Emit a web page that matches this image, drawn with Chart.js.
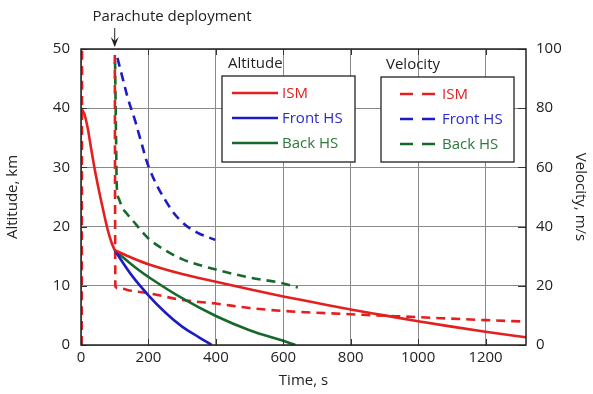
<!DOCTYPE html>
<html>
<head>
<meta charset="utf-8">
<script src="https://cdn.jsdelivr.net/npm/chart.js@4.4.0/dist/chart.umd.min.js"></script>
<style>
  html, body { margin: 0; padding: 0; background: #fff; }
</style>
</head>
<body>
<canvas id="chart" width="593" height="394"></canvas>
<script>
// Descent of the probe parts: altitude (left axis) and velocity (right axis)

const seriesNames = ['ISM', 'Front HS', 'Back HS'];
const seriesColors = ['#e3201f', '#1c1cc4', '#17692b'];
const legendTextColors = ['#e3201f', '#2a2ad0', '#2b7a3c'];

// altitude, km (ISM split at parachute deployment, where the curve has a corner)
const ismFallT  = [0, 10, 20, 30, 40, 50, 60, 70, 80, 90, 100];
const ismFall   = [40.0, 39.0, 36.6, 33.2, 29.9, 27.0, 24.3, 21.7, 19.3, 17.4, 16.0];
const ismChuteT = [100, 150, 200, 300, 400, 500, 600, 700, 800, 900, 1000, 1100, 1200, 1320];
const ismChute  = [16.0, 14.75, 13.65, 12.0, 10.7, 9.4, 8.2, 7.1, 6.0, 5.0, 4.0, 3.1, 2.25, 1.3];
const frontAltT = [100, 150, 200, 250, 300, 350, 388];
const frontAlt  = [16.0, 11.8, 8.4, 5.5, 3.1, 1.3, 0];
const backAltT  = [100, 150, 200, 300, 400, 500, 600, 636];
const backAlt   = [16.0, 13.6, 11.5, 7.9, 4.9, 2.5, 0.7, 0];

// velocity, m/s
const ismVelT   = [2, 4, 99, 102, 110, 150, 200, 300, 400, 500, 600, 800, 1000, 1200, 1320];
const ismVel    = [0, 150, 150, 19.7, 19.2, 18.3, 17.5, 15.2, 14.0, 12.5, 11.5, 10.4, 9.4, 8.4, 7.9];
const frontVelT = [108, 125, 140, 160, 175, 205, 255, 300, 345, 398];
const frontVel  = [97, 89.5, 83, 76, 70, 59, 48, 41.5, 38, 35.5];
const backVelT  = [101, 104, 106, 112, 122, 135, 150, 200, 250, 300, 400, 500, 600, 643];
const backVel   = [96, 70, 54, 49.5, 46.5, 44.5, 42.5, 36, 32, 29, 25.5, 22.8, 20.8, 19.4];

const xTicksMax = 1320;
const altMax = 50;
const velMax = 100;

const FONT = "'Open Sans', 'Liberation Sans', sans-serif";

function pts(t, v) {
    return t.map((x, i) => ({ x: x, y: v[i] }));
}

function lineSet(label, t, v, idx, axis, dashed, monotone) {
    return {
        label: label,
        data: pts(t, v),
        yAxisID: axis,
        borderColor: seriesColors[idx],
        borderWidth: 2.6,
        borderDash: dashed ? [9, 6] : [],
        pointRadius: 0,
        fill: false,
        tension: 0.4,
        cubicInterpolationMode: monotone ? 'monotone' : 'default'
    };
}

// frame round the plot, inner ticks, legends and the annotation
const decorations = {
    id: 'decorations',
    afterDatasetsDraw(chart) {
        const ctx = chart.ctx;
        const a = chart.chartArea;
        ctx.save();

        ctx.strokeStyle = '#333';
        ctx.lineWidth = 1;
        const x = chart.scales.x, y = chart.scales.y, y2 = chart.scales.y2;
        x.ticks.forEach(tk => {
            const px = Math.round(x.getPixelForValue(tk.value)) + 0.5;
            ctx.beginPath();
            ctx.moveTo(px, a.bottom); ctx.lineTo(px, a.bottom - 6);
            ctx.moveTo(px, a.top); ctx.lineTo(px, a.top + 6);
            ctx.stroke();
        });
        y.ticks.forEach(tk => {
            const py = Math.round(y.getPixelForValue(tk.value)) + 0.5;
            ctx.beginPath();
            ctx.moveTo(a.left, py); ctx.lineTo(a.left + 6, py);
            ctx.stroke();
        });
        y2.ticks.forEach(tk => {
            const py = Math.round(y2.getPixelForValue(tk.value)) + 0.5;
            ctx.beginPath();
            ctx.moveTo(a.right, py); ctx.lineTo(a.right - 8, py);
            ctx.stroke();
        });

        ctx.strokeStyle = '#222';
        ctx.lineWidth = 1.5;
        ctx.strokeRect(a.left, a.top, a.right - a.left, a.bottom - a.top);

        drawLegend(ctx, 'Altitude', { x: 222, y: 76, w: 133, h: 86, sx0: 10, sx1: 56, tx: 60, titleDx: 6 }, false);
        drawLegend(ctx, 'Velocity', { x: 381, y: 77, w: 133, h: 85, sx0: 19, sx1: 54, tx: 61, titleDx: 5 }, true);

        // parachute deployment marker
        ctx.fillStyle = '#222';
        ctx.font = '15px ' + FONT;
        ctx.textAlign = 'center';
        ctx.textBaseline = 'middle';
        ctx.fillText('Parachute deployment', 172, 17);
        const ax = x.getPixelForValue(100);
        ctx.strokeStyle = '#222';
        ctx.lineWidth = 1;
        ctx.beginPath();
        ctx.moveTo(ax, 28); ctx.lineTo(ax, 46);
        ctx.stroke();
        ctx.beginPath();
        ctx.moveTo(ax - 4, 37); ctx.lineTo(ax, 47); ctx.lineTo(ax + 4, 37); ctx.lineTo(ax, 41);
        ctx.closePath();
        ctx.fill();

        ctx.restore();
    }
};

function drawLegend(ctx, title, b, dashed) {
    ctx.fillStyle = '#222';
    ctx.font = '15px ' + FONT;
    ctx.textAlign = 'left';
    ctx.textBaseline = 'middle';
    ctx.fillText(title, b.x + b.titleDx, b.y - 12);

    ctx.fillStyle = '#fff';
    ctx.fillRect(b.x, b.y, b.w, b.h);
    ctx.strokeStyle = '#222';
    ctx.lineWidth = 1.3;
    ctx.strokeRect(b.x, b.y, b.w, b.h);

    seriesNames.forEach((name, i) => {
        const ly = b.y + 17 + i * 25;
        ctx.strokeStyle = seriesColors[i];
        ctx.lineWidth = 2.6;
        ctx.setLineDash(dashed ? [13, 9] : []);
        ctx.beginPath();
        ctx.moveTo(b.x + b.sx0, ly); ctx.lineTo(b.x + b.sx1, ly);
        ctx.stroke();
        ctx.setLineDash([]);
        ctx.fillStyle = legendTextColors[i];
        ctx.font = '15px ' + FONT;
        ctx.fillText(name, b.x + b.tx, ly + 1);
    });
}

const tickFont = { size: 15, family: FONT };
const plainLabel = v => String(v);

new Chart(document.getElementById('chart'), {
    type: 'line',
    data: {
        datasets: [
            lineSet('ISM altitude (free fall)', ismFallT, ismFall, 0, 'y', false, true),
            lineSet('ISM altitude (parachute)', ismChuteT, ismChute, 0, 'y', false, true),
            lineSet('Front HS altitude', frontAltT, frontAlt, 1, 'y', false, false),
            lineSet('Back HS altitude', backAltT, backAlt, 2, 'y', false, false),
            lineSet('ISM velocity', ismVelT, ismVel, 0, 'y2', true, true),
            lineSet('Front HS velocity', frontVelT, frontVel, 1, 'y2', true, false),
            lineSet('Back HS velocity', backVelT, backVel, 2, 'y2', true, true)
        ]
    },
    options: {
        responsive: false,
        animation: false,
        layout: { padding: { top: 49, left: 0, right: 0, bottom: 0 } },
        plugins: {
            legend: { display: false },
            tooltip: { enabled: false }
        },
        scales: {
            x: {
                type: 'linear',
                min: 0,
                max: xTicksMax,
                afterFit: s => { s.height = 49; },
                ticks: { stepSize: 200, includeBounds: false, padding: 4, color: '#222', font: tickFont, callback: plainLabel },
                grid: { color: '#8a8a8a', lineWidth: 1, drawTicks: false },
                border: { display: false },
                title: { display: true, text: 'Time, s', color: '#222', font: tickFont, padding: { top: 8 } }
            },
            y: {
                position: 'left',
                min: 0,
                max: altMax,
                afterFit: s => { s.width = 81; },
                ticks: { stepSize: 10, padding: 11, color: '#222', font: tickFont, callback: plainLabel },
                grid: { color: '#8a8a8a', lineWidth: 1, drawTicks: false },
                border: { display: false },
                title: { display: true, text: 'Altitude, km', color: '#222', font: tickFont }
            },
            y2: {
                position: 'right',
                min: 0,
                max: velMax,
                afterFit: s => { s.width = 67; },
                ticks: { stepSize: 20, padding: 10, color: '#222', font: tickFont, callback: plainLabel },
                grid: { display: false, drawTicks: false },
                border: { display: false },
                title: { display: true, text: 'Velocity, m/s', color: '#222', font: tickFont }
            }
        }
    },
    plugins: [decorations]
});
</script>
</body>
</html>
